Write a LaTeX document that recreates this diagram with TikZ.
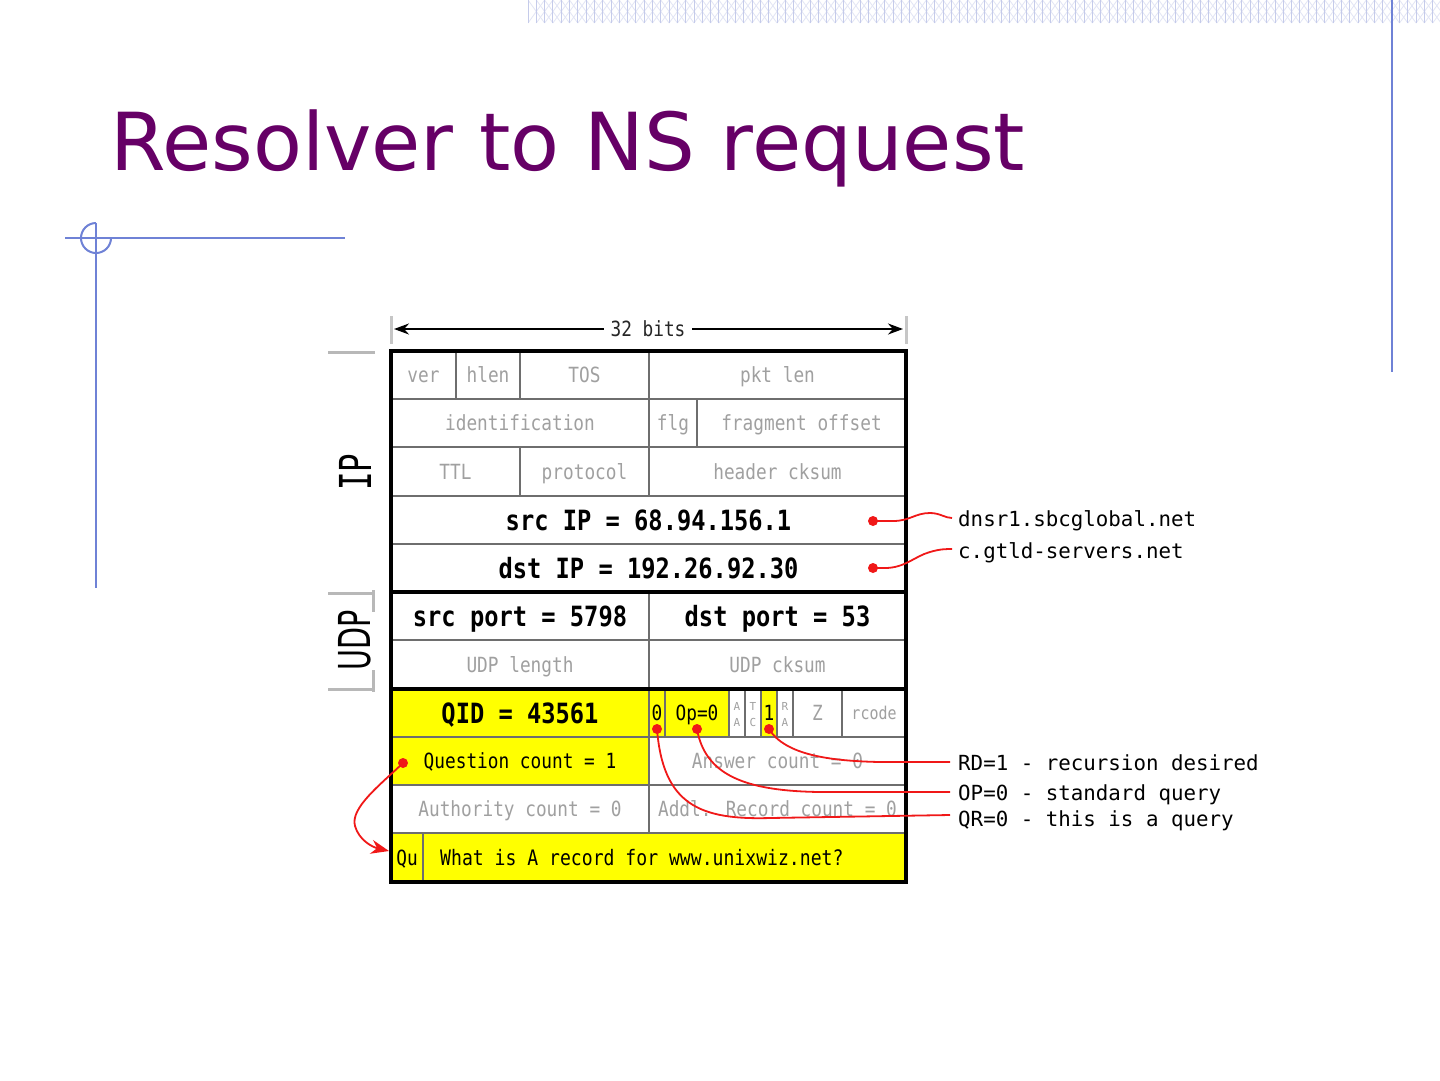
\documentclass[tikz,border=0pt]{standalone}
\usepackage{graphicx}
\usepackage{fontspec}
\setmainfont{DejaVu Sans}
\newfontfamily\cmono[FakeStretch=0.85]{DejaVu Sans Mono}
\newfontfamily\wmono{DejaVu Sans Mono}
\usetikzlibrary{arrows.meta}
\definecolor{ttl}{HTML}{660066}
\definecolor{deco}{HTML}{6F82D6}
\definecolor{hatchv}{HTML}{C5CBEA}
\definecolor{hatchd}{HTML}{E2E5F5}
\definecolor{gridc}{HTML}{6E6E6E}
\definecolor{txtg}{HTML}{A0A0A0}
\definecolor{sideg}{HTML}{B8B8B8}
\definecolor{ann}{HTML}{F01818}
\definecolor{yel}{HTML}{FFFF00}
\begin{document}
\begin{tikzpicture}[x=1pt,y=-1pt,
  gt/.style={font=\cmono\fontsize{20.9}{24}\selectfont, text=txtg, inner sep=0pt, text height=15.2pt, text depth=0pt},
  kt/.style={gt, text=black},
  bt/.style={font=\cmono\bfseries\fontsize{27.9}{32}\selectfont, inner sep=0pt, text height=20.3pt, text depth=0pt},
  tinyt/.style={font=\wmono\fontsize{11}{12}\selectfont, text=txtg, inner sep=0pt, text height=8pt, text depth=0pt},
  lbl/.style={font=\wmono\fontsize{20.8}{24}\selectfont, anchor=base west, inner sep=0pt},
  gridl/.style={draw=gridc, line width=2.6pt},
  blk/.style={draw=black, line width=3.2pt},
  side/.style={draw=sideg, line width=3pt},
  annl/.style={draw=ann, line width=1.8pt},
  dot/.style={circle, fill=ann, inner sep=0pt, minimum size=10pt},
  decol/.style={draw=deco, line width=2pt}
]
\useasboundingbox (0,0) rectangle (1440,1080);
\fill[white] (0,0) rectangle (1440,1080);

% top hatch band
\begin{scope}
\clip (528,0) rectangle (1440,23);
\foreach \i in {0,...,111} {
  \draw[hatchd, line width=0.8pt] (528+\i*8.3,0) -- ++(16.6,23);
  \draw[hatchd, line width=0.8pt] (528+\i*8.3+16.6,0) -- ++(-16.6,23);
}
\foreach \i in {0,...,111} {
  \draw[hatchv, line width=1pt] (528+\i*8.3,0) -- ++(0,23);
}
\end{scope}

% slide decorations
\draw[decol, line width=2.5pt] (1392,0) -- (1392,372);
\draw[decol] (65,238) -- (345,238);
\draw[decol] (96,223) -- (96,588);
\draw[decol] (96,223) arc[start angle=270, end angle=0, radius=15];

% title
\node[anchor=base west, font=\fontsize{80}{90}\selectfont, text=ttl, inner sep=0pt] (title) at (110,170) {Resolver to NS request};

% 32 bits
\draw[draw=sideg!80, line width=3pt] (391,316) -- (391,344) (906,316) -- (906,344);
\coordinate (a1) at (394,329);
\coordinate (a2) at (903,329);
\draw[line width=2pt, {Stealth[length=15pt,width=11pt]}-{Stealth[length=15pt,width=11pt]}] (a1) -- (a2);
\node[gt, text=black!85, fill=white, inner xsep=7pt, inner ysep=2pt] (bits) at (648,329) {32 bits};

% side labels
\draw[side] (328,352) -- (375,352) (328,593) -- (375,593) (328,689) -- (375,689);
\draw[side] (373,590) -- (373,612) (373,670) -- (373,692);
\node[rotate=90, inner sep=0pt, font=\wmono\fontsize{44}{48}\selectfont] (ip) at (355,472) {\scalebox{0.7}[1]{IP}};
\node[rotate=90, inner sep=0pt, font=\fontsize{44}{48}\selectfont] (udp) at (355,640) {\scalebox{0.65}[1]{UDP}};

% yellow fills
\fill[yel] (391,689) rectangle (649,785);
\fill[yel] (649,689) rectangle (729,737);
\fill[yel] (761,689) rectangle (777,737);
\fill[yel] (391,833) rectangle (906,882);

% grid
\draw[gridl] (391,399) -- (906,399) (391,447) -- (906,447) (391,496) -- (906,496)
  (391,544) -- (906,544) (391,640) -- (906,640) (391,737) -- (906,737)
  (391,785) -- (906,785) (391,833) -- (906,833);
\draw[gridl] (456,351) -- (456,399) (520,351) -- (520,399) (649,351) -- (649,399)
  (649,399) -- (649,447) (697,399) -- (697,447)
  (520,447) -- (520,496) (649,447) -- (649,496)
  (649,592) -- (649,689)
  (649,689) -- (649,737) (665,689) -- (665,737) (729,689) -- (729,737) (745,689) -- (745,737)
  (761,689) -- (761,737) (777,689) -- (777,737) (793,689) -- (793,737) (842,689) -- (842,737)
  (649,737) -- (649,833)
  (423,833) -- (423,882);
\draw[blk] (391,592) -- (906,592) (391,689) -- (906,689);
\draw[blk] (391,351) rectangle (906,882);

% cell texts
\node[gt] (ver) at (423.5,375) {ver};
\node[gt] (hlen) at (488,375) {hlen};
\node[gt] (tos) at (584.5,375) {TOS};
\node[gt] (pktlen) at (777.5,375) {pkt len};
\node[gt] (ident) at (520,423) {identification};
\node[gt] (flg) at (673,423) {flg};
\node[gt] (frag) at (801.5,423) {fragment offset};
\node[gt] (ttlc) at (455.5,471.5) {TTL};
\node[gt] (proto) at (584.5,471.5) {protocol};
\node[gt] (hck) at (777.5,471.5) {header cksum};
\node[bt] (srcip) at (648.5,520) {src IP = 68.94.156.1};
\node[bt] (dstip) at (648.5,568) {dst IP = 192.26.92.30};
\node[bt] (srcport) at (520,616) {src port = 5798};
\node[bt] (dstport) at (777.5,616) {dst port = 53};
\node[gt] (udplen) at (520,664.5) {UDP length};
\node[gt] (udpck) at (777.5,664.5) {UDP cksum};
\node[bt] (qid) at (520,713) {QID = 43561};
\node[kt] (qr) at (657,713) {0};
\node[kt] (op) at (697,713) {Op=0};
\node[tinyt] (aa1) at (737,706) {A};
\node[tinyt] (aa2) at (737,722) {A};
\node[tinyt] (tc1) at (753,706) {T};
\node[tinyt] (tc2) at (753,722) {C};
\node[kt] (rd) at (769,713) {1};
\node[tinyt] (ra1) at (785,706) {R};
\node[tinyt] (ra2) at (785,722) {A};
\node[gt] (z) at (817.5,713) {Z};
\node[gt, font=\cmono\fontsize{17.6}{20}\selectfont, text height=12.8pt] (rcode) at (874,713) {rcode};
\node[kt] (qcount) at (520,761) {Question count = 1};
\node[gt] (acount) at (777.5,761) {Answer count = 0};
\node[gt] (authc) at (520,809) {Authority count = 0};
\node[gt] (addl) at (777.5,809) {Addl. Record count = 0};
\node[kt] (qu) at (407,857.5) {Qu};
\node[kt, anchor=west, font=\cmono\fontsize{21.3}{24}\selectfont] (what) at (440,857.5) {What is A record for www.unixwiz.net?};

% annotation labels
\node[lbl] (l1) at (958,526.7) {dnsr1.sbcglobal.net};
\node[lbl] (l2) at (958,558.3) {c.gtld-servers.net};
\node[lbl] (l3) at (958,770) {RD=1 - recursion desired};
\node[lbl] (l4) at (958,800) {OP=0 - standard query};
\node[lbl] (l5) at (958,826.7) {QR=0 - this is a query};

% annotation connectors
\node[dot] (d1) at (873,521) {};
\node[dot] (d2) at (873,568) {};
\node[dot] (d3) at (769,729) {};
\node[dot] (d4) at (697,729) {};
\node[dot] (d5) at (657,729) {};
\node[dot] (d6) at (403,763) {};
\coordinate (e1) at (952,518);
\coordinate (e2) at (952,549);
\coordinate (e3) at (950,762);
\coordinate (e4) at (950,792);
\coordinate (e5) at (950,815);
\coordinate (qa) at (389,851);
\draw[annl] (d1.center) -- (893,521) .. controls (910,521) and (915,513) .. (930,513) .. controls (940,513) and (945,518) .. (e1);
\draw[annl] (d2.center) -- (885,568) .. controls (905,568) and (915,556) .. (930,552) .. controls (940,549) and (946,549) .. (e2);
\draw[annl] (d3.center) .. controls (785,755) and (830,761) .. (880,762) -- (e3);
\draw[annl] (d4.center) .. controls (705,775) and (745,791) .. (820,792) -- (e4);
\draw[annl] (d5.center) .. controls (663,805) and (700,820) .. (770,818) -- (e5);
\draw[annl, -{Stealth[length=18pt, width=14pt]}] (d6.center) .. controls (380,785) and (350,808) .. (355,826) .. controls (359,840) and (372,847) .. (qa);
\end{tikzpicture}
\end{document}
